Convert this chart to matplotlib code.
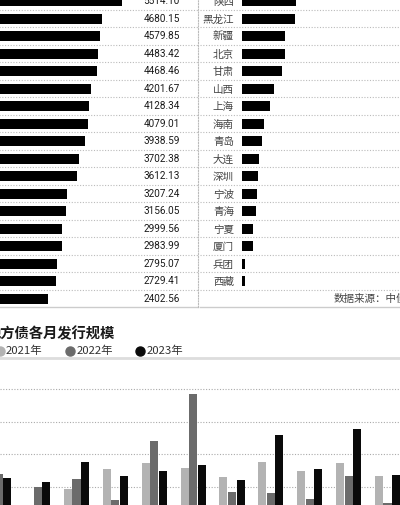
import numpy as np
import matplotlib.pyplot as plt
from matplotlib.lines import Line2D
from matplotlib.transforms import blended_transform_factory

plt.rcParams['font.family'] = ['Noto Sans CJK SC', 'DejaVu Sans']

# ranking panel, left column (labels cut off in the source)
left_values = [5514.10, 4680.15, 4579.85, 4483.42, 4468.46, 4201.67, 4128.34,
               4079.01, 3938.59, 3702.38, 3612.13, 3207.24, 3156.05, 2999.56,
               2983.99, 2795.07, 2729.41, 2402.56]

# ranking panel, right column
right_regions = ['陕西', '黑龙江', '新疆', '北京', '甘肃', '山西', '上海', '海南',
                 '青岛', '大连', '深圳', '宁波', '青海', '宁夏', '厦门', '兵团', '西藏']
right_values = [2258, 2216, 1821, 1808, 1695, 1333, 1177, 913, 841, 702, 660,
                631, 601, 475, 450, 139, 114]

# monthly issuance (亿元)
months = ['1月', '2月', '3月', '4月', '5月', '6月', '7月', '8月', '9月', '10月', '11月']
issue_2021 = [1500, 1500, 4680, 7670, 8600, 7870, 6490, 8750, 7370, 8600, 6640]
issue_2022 = [6950, 4990, 6180, 2900, 12080, 19230, 4130, 3980, 3100, 6690, 2530]
issue_2023 = [6380, 5760, 8840, 6640, 7460, 8290, 6070, 12960, 7720, 13880, 6750]
years = ['2021年', '2022年', '2023年']
year_colors = ['#b3b3b3', '#6b6b6b', '#0a0a0a']

W, H = 400, 505


def px_box(x0, y0, x1, y1):
    # pixel rectangle (top-left origin) -> figure fraction
    return [x0 / W, 1 - y1 / H, (x1 - x0) / W, (y1 - y0) / H]


fig = plt.figure(figsize=(W / 100, H / 100), dpi=100)

row0 = 1.2
row_h = 17.5
px_per_unit = 0.02378
n_rows = len(left_values)
top_px = row0 - row_h / 2
bottom_px = row0 + row_h * (n_rows - 0.5)
dots = (0, (1, 1.5))

# left ranking
axL = fig.add_axes(px_box(-9.1, top_px, 198, bottom_px))
axL.barh(np.arange(n_rows), left_values, height=0.57, color='black')
axL.set_xlim(0, (198 + 9.1) / px_per_unit)
axL.set_ylim(n_rows - 0.5, -0.5)
axL.set_xticks([])
axL.set_yticks([])
for s in ['top', 'bottom', 'left']:
    axL.spines[s].set_visible(False)
axL.spines['right'].set_linestyle(dots)
axL.spines['right'].set_color('#bbbbbb')
axL.spines['right'].set_linewidth(0.8)
for i in range(n_rows - 1):
    axL.axhline(i + 0.5, color='#bbbbbb', lw=0.8, ls=dots)
axL.axhline(n_rows - 0.5, color='#cccccc', lw=1, clip_on=False)
trans = blended_transform_factory(axL.transAxes, axL.transData)
for i, v in enumerate(left_values):
    axL.text((180 + 9.1) / 207.1, i, f'{v:.2f}', transform=trans, ha='right',
             va='center', fontsize=7.2, family=['Roboto'], color='#1a1a1a')

# right ranking
axR = fig.add_axes(px_box(242, top_px, 400, bottom_px))
axR.barh(np.arange(len(right_values)), right_values, height=0.57, color='black')
axR.set_xlim(0, 158 / px_per_unit)
axR.set_ylim(n_rows - 0.5, -0.5)
axR.set_xticks([])
axR.set_yticks(np.arange(len(right_regions)))
axR.set_yticklabels(right_regions)
axR.tick_params(axis='y', length=0, pad=5.8, labelsize=7.6, labelcolor='#444444')
for s in axR.spines.values():
    s.set_visible(False)
x_from = (200 - 242) / 158
for i in range(n_rows - 1):
    axR.axhline(i + 0.5, xmin=x_from, xmax=1, color='#bbbbbb', lw=0.8, ls=dots,
                clip_on=False)
axR.axhline(n_rows - 0.5, xmin=x_from, xmax=1, color='#cccccc', lw=1, clip_on=False)
transR = blended_transform_factory(axR.transAxes, axR.transData)
axR.text((333.3 - 242) / 158, n_rows - 1, '数据来源：中债登', transform=transR,
         ha='left', va='center', fontsize=7.6, color='#444444')

# monthly issuance bars
axB = fig.add_axes(px_box(0, 357.5, 400, 519.1))
x = np.arange(len(months))
off = 0.221
bw = 0.206
for k, (vals, col) in enumerate(zip([issue_2021, issue_2022, issue_2023], year_colors)):
    axB.bar(x + (k - 1) * off, vals, width=bw, color=col)
axB.set_xlim(1.25 / 38.875, 401.25 / 38.875)
axB.set_ylim(0, 24900)
axB.set_yticks([5000, 10000, 15000, 20000])
axB.grid(axis='y', ls=dots, color='#aaaaaa', lw=0.8)
axB.set_axisbelow(True)
axB.tick_params(left=False, labelleft=False, bottom=False, labelbottom=False)
for s in ['left', 'right', 'bottom']:
    axB.spines[s].set_visible(False)
axB.spines['top'].set_color('#dddddd')
axB.spines['top'].set_linewidth(2)

# title and legend
fig.text(-13.3 / W, 1 - 334 / H, '地方债各月发行规模', fontsize=10.3,
         weight='semibold', ha='left', va='center', color='#1a1a1a')
for k, (lab, col) in enumerate(zip(years, year_colors)):
    cx = 70.2 * k
    fig.add_artist(Line2D([cx / W], [1 - 351 / H], transform=fig.transFigure,
                          marker='o', ms=6.5, color=col, ls=''))
    fig.text((cx + 6) / W, 1 - 351 / H, lab, fontsize=8.2, ha='left',
             va='center', color='#333333')

fig.savefig('out.png', dpi=100, facecolor='white')
